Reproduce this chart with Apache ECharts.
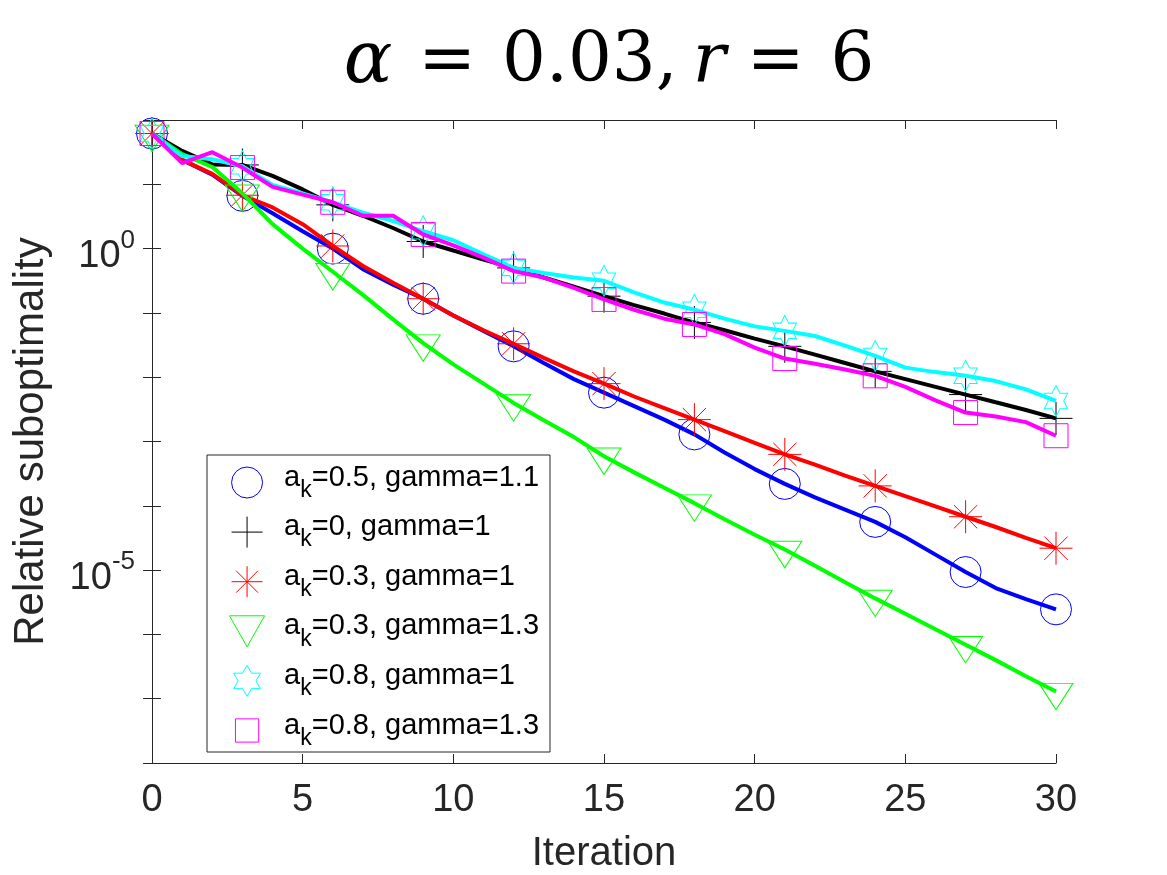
<!DOCTYPE html>
<html>
<head>
<meta charset="utf-8">
<style>html,body{margin:0;padding:0;background:#fff;}#c{width:1167px;height:875px;}</style>
<script src="https://cdn.jsdelivr.net/npm/echarts@6/dist/echarts.min.js"></script>
</head>
<body>
<div id="c"></div>
<script>
const iterations = [0,1,2,3,4,5,6,7,8,9,10,11,12,13,14,15,16,17,18,19,20,21,22,23,24,25,26,27,28,29,30];
const xTicks = [0,5,10,15,20,25,30];
const yTickLabels = {"0": "0", "-5": "-5"};
const seriesNames = ['a_k=0.5, gamma=1.1','a_k=0, gamma=1','a_k=0.3, gamma=1','a_k=0.3, gamma=1.3','a_k=0.8, gamma=1','a_k=0.8, gamma=1.3'];
const colors = ['#0000ff','#000000','#ff0000','#00ff00','#00ffff','#ff00ff'];

const blueVals = [61.7,24.0,14.1,6.61,3.55,1.86,1.00,0.479,0.275,0.166,0.0912,0.0525,0.0302,0.0166,9.33e-3,5.75e-3,3.55e-3,2.19e-3,1.29e-3,6.76e-4,3.72e-4,2.19e-4,1.35e-4,8.71e-5,5.62e-5,3.24e-5,1.74e-5,9.33e-6,5.25e-6,3.55e-6,2.45e-6];
const blackVals = [61.7,33.1,20.4,20.0,13.5,8.32,4.79,3.24,2.09,1.29,0.933,0.676,0.501,0.355,0.257,0.182,0.132,0.0977,0.0708,0.0537,0.0398,0.0302,0.0224,0.0166,0.0123,9.33e-3,7.08e-3,5.37e-3,4.07e-3,3.09e-3,2.29e-3];
const redVals = [61.7,24.0,14.5,6.76,4.37,2.40,1.10,0.537,0.295,0.166,0.0912,0.0537,0.0331,0.0200,0.0123,7.94e-3,5.01e-3,3.31e-3,2.19e-3,1.45e-3,9.55e-4,6.31e-4,4.37e-4,2.95e-4,2.04e-4,1.41e-4,9.77e-5,6.76e-5,4.68e-5,3.16e-5,2.19e-5];
const greenVals = [61.7,29.5,18.6,7.24,2.40,1.00,0.437,0.191,0.0794,0.0339,0.0158,7.94e-3,3.98e-3,2.14e-3,1.17e-3,5.89e-4,3.31e-4,1.91e-4,1.10e-4,6.17e-5,3.55e-5,2.09e-5,1.17e-5,6.46e-6,3.63e-6,2.09e-6,1.20e-6,6.92e-7,3.98e-7,2.24e-7,1.29e-7];
const cyanVals = [61.7,27.5,24.5,19.1,9.77,7.24,5.25,3.63,2.69,1.86,1.35,0.813,0.501,0.417,0.355,0.316,0.209,0.145,0.112,0.0813,0.0617,0.0525,0.0437,0.0309,0.0214,0.0141,0.0120,0.0105,8.71e-3,6.46e-3,4.27e-3];
const magentaVals = [61.7,21.4,31.6,18.2,9.12,6.92,5.25,3.24,3.24,1.66,1.12,0.724,0.447,0.355,0.245,0.162,0.112,0.0813,0.0661,0.0468,0.0288,0.0195,0.0162,0.0132,0.0105,7.08e-3,4.37e-3,2.82e-3,2.45e-3,2.00e-3,1.23e-3];

const allVals = [blueVals, blackVals, redVals, greenVals, cyanVals, magentaVals];

const PLUS = 'path://M16,0L16,32M0,16L32,16';
const ASTER = 'path://M16,0L16,32M0,16L32,16M4.7,4.7L27.3,27.3M4.7,27.3L27.3,4.7';
const TRI = 'path://M0,0L34,0L17,30Z';
const HEX = 'path://M13.86,0L18.48,8L27.71,8L23.09,16L27.71,24L18.48,24L13.86,32L9.24,24L0,24L4.62,16L0,8L9.24,8Z';
const SQ_LEG = 'path://M-4,-4M28,28M0,0L24,0L24,24L0,24Z';
const markerDefs = [
  {symbol:'circle', size:31, offset:[0,0], legend:'circle'},
  {symbol:PLUS, size:33, offset:[0,0], legend:PLUS},
  {symbol:ASTER, size:33, offset:[0,0], legend:ASTER},
  {symbol:TRI, size:[34,30], offset:[0,5], legend:TRI},
  {symbol:HEX, size:[27,31], offset:[0,0], legend:HEX},
  {symbol:'rect', size:24, offset:[0,0], legend:SQ_LEG}
];

const FONT = 'Liberation Sans, Arial, Helvetica, sans-serif';
const SERIF = 'DejaVu Serif, Liberation Serif, serif';
const AX = '#262626';

const series = allVals.map((vals, si) => ({
  name: seriesNames[si],
  type: 'line',
  data: iterations.map((it, i) => [it, vals[i]]),
  showSymbol: true,
  showAllSymbol: true,
  symbol: (v, p) => (p.dataIndex % 3 === 0 ? markerDefs[si].symbol : 'none'),
  symbolSize: markerDefs[si].size,
  symbolOffset: markerDefs[si].offset,
  symbolKeepAspect: true,
  lineStyle: {color: colors[si], width: 4},
  itemStyle: {color: 'rgba(0,0,0,0)', borderColor: colors[si], borderWidth: 1},
  emphasis: {disabled: true},
  animation: false,
  z: 2 + si
}));

const yFormatter = (v) => {
  const e = String(Math.round(Math.log10(v)));
  return (e in yTickLabels) ? '{b|10}{s|' + yTickLabels[e] + '}' : '';
};

const chart = echarts.init(document.getElementById('c'), null, {renderer: 'canvas'});
chart.setOption({
  animation: false,
  backgroundColor: '#ffffff',
  title: {
    text: '{i|α}{e|=}{t|0.03,}{r|r}{e|=}{t|6}',
    left: 604, top: 22, textAlign: 'center',
    textStyle: {
      fontFamily: SERIF, fontSize: 69, fontWeight: 'normal', color: '#000',
      rich: {
        i: {fontFamily: SERIF, fontStyle: 'italic', fontSize: 72, color: '#000', padding: [0,5,0,0]},
        r: {fontFamily: SERIF, fontStyle: 'italic', fontSize: 69, color: '#000', padding: [0,0,0,15]},
        e: {fontFamily: SERIF, fontSize: 69, color: '#000', padding: [0,26,0,21]},
        t: {fontFamily: SERIF, fontSize: 69, color: '#000'}
      }
    }
  },
  grid: {left: 152, right: 111, top: 120, bottom: 112, show: false, containLabel: false, outerBoundsMode: 'none'},
  xAxis: [{
    type: 'value', min: 0, max: 30, interval: 5, position: 'bottom',
    name: 'Iteration', nameLocation: 'middle', nameGap: 71,
    nameTextStyle: {fontFamily: FONT, fontSize: 40, color: AX},
    axisLine: {show: true, lineStyle: {color: AX, width: 1}},
    axisTick: {show: true, inside: true, length: 9, lineStyle: {color: AX}},
    axisLabel: {show: true, fontFamily: FONT, fontSize: 38, color: AX, margin: 19,
      formatter: (v) => (xTicks.indexOf(v) >= 0 ? String(v) : '')},
    splitLine: {show: false}
  }, {
    type: 'value', min: 0, max: 30, interval: 5, position: 'top',
    axisLine: {show: true, onZero: false, lineStyle: {color: AX, width: 1}},
    axisTick: {show: true, inside: true, length: 9, lineStyle: {color: AX}},
    axisLabel: {show: false}, splitLine: {show: false}
  }],
  yAxis: [{
    type: 'log', logBase: 10, min: 1e-8, max: 1e2, interval: 1, position: 'left',
    name: 'Relative suboptimality', nameLocation: 'middle', nameGap: 100,
    nameTextStyle: {fontFamily: FONT, fontSize: 42, color: AX},
    axisLine: {show: true, lineStyle: {color: AX, width: 1}},
    axisTick: {show: true, inside: true, length: 9, lineStyle: {color: AX}},
    axisLabel: {show: true, margin: 17, padding: [6,0,0,0], formatter: yFormatter,
      rich: {
        b: {fontFamily: FONT, fontSize: 38, color: AX, lineHeight: 38, verticalAlign: 'bottom'},
        s: {fontFamily: FONT, fontSize: 26, color: AX, verticalAlign: 'top', padding: [0,0,22,0]}
      }},
    splitLine: {show: false}
  }, {
    type: 'log', logBase: 10, min: 1e-8, max: 1e2, interval: 1, position: 'right',
    axisLine: {show: true, lineStyle: {color: AX, width: 1}},
    axisTick: {show: true, inside: true, length: 9, lineStyle: {color: AX}},
    axisLabel: {show: false}, splitLine: {show: false}
  }],
  legend: {
    show: true, orient: 'vertical', left: 207, top: 455,
    padding: [8, 11, 2, 22],
    itemWidth: 64, itemHeight: 31, itemGap: 10.6,
    borderColor: '#262626', borderWidth: 1, backgroundColor: '#ffffff',
    selectedMode: false,
    data: seriesNames.map((n, i) => ({
      name: n, icon: markerDefs[i].legend,
      itemStyle: {color: 'rgba(0,0,0,0)', borderColor: colors[i], borderWidth: 1}
    })),
    formatter: (name) => {
      const rest = name.slice(3);
      return '{n|a}{k|k}{n|' + rest + '}';
    },
    textStyle: {
      fontFamily: FONT, fontSize: 29, color: '#000',
      rich: {
        n: {fontFamily: FONT, fontSize: 29, color: '#000', lineHeight: 30, verticalAlign: 'top'},
        k: {fontFamily: FONT, fontSize: 23, color: '#000', verticalAlign: 'top', padding: [16,0,0,0]}
      }
    }
  },
  series: series
});
</script>
</body>
</html>
